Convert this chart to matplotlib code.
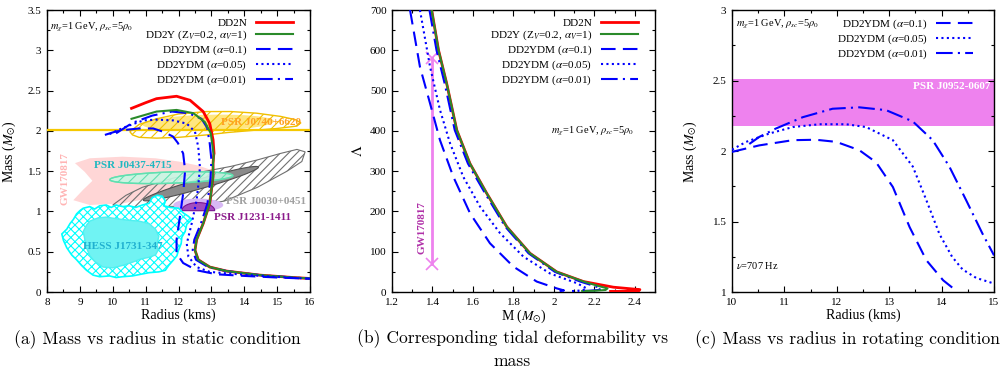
import numpy as np
import matplotlib
matplotlib.use("Agg")
import matplotlib.pyplot as plt
from matplotlib.patches import Polygon
from matplotlib.ticker import MultipleLocator, FuncFormatter

plt.rcParams['font.family'] = ['Liberation Serif', 'DejaVu Serif']
plt.rcParams['mathtext.fontset'] = 'stix'
plt.rcParams['hatch.linewidth'] = 0.8

# ---------------- data: panel (a) mass-radius, static ----------------
tail_R = [13.07, 13.05, 13.05, 12.95, 12.75, 12.55, 12.5, 12.6, 12.95, 13.46, 14.47, 15.49, 16.0]
tail_M = [1.70, 1.60, 1.43, 1.10, 0.85, 0.65, 0.52, 0.40, 0.31, 0.26, 0.21, 0.18, 0.168]

dd2n_R = [10.57, 11.0, 11.33, 11.94, 12.35, 12.75, 12.95, 13.05, 13.08]
dd2n_M = [2.28, 2.35, 2.40, 2.43, 2.38, 2.24, 2.09, 1.89, 1.72]
dd2y_R = [10.57, 11.33, 11.94, 12.45, 12.8, 12.98, 13.05]
dd2y_M = [2.15, 2.24, 2.26, 2.22, 2.11, 1.97, 1.76]
a001_R = [10.1, 10.6, 11.2, 11.8, 12.3, 12.7, 12.87, 12.95, 13.0, 12.97, 12.88, 12.68, 12.48, 12.43, 12.53, 12.9, 13.46, 14.47, 15.49, 16.0]
a001_M = [1.97, 2.10, 2.19, 2.24, 2.22, 2.15, 2.04, 1.84, 1.64, 1.40, 1.10, 0.85, 0.65, 0.52, 0.40, 0.31, 0.26, 0.21, 0.18, 0.168]
a005_R = [9.9, 10.27, 10.52, 10.93, 11.33, 11.84, 12.25, 12.5, 12.6, 12.65, 12.62, 12.55, 12.4, 12.25, 12.3, 12.55, 12.95, 13.5, 14.5, 15.5, 16.0]
a005_M = [1.96, 2.03, 2.07, 2.13, 2.14, 2.13, 2.09, 1.99, 1.80, 1.55, 1.40, 1.14, 0.85, 0.60, 0.44, 0.31, 0.25, 0.23, 0.20, 0.175, 0.165]
a01_R = [9.76, 10.07, 10.32, 10.8, 11.23, 11.53, 11.83, 11.98, 12.14, 12.2, 12.14, 12.04, 11.94, 11.94, 12.14, 12.55, 13.16, 14.0, 15.0, 16.0]
a01_M = [1.95, 1.99, 2.01, 2.03, 2.03, 1.99, 1.93, 1.85, 1.72, 1.51, 1.22, 0.93, 0.65, 0.48, 0.36, 0.27, 0.22, 0.20, 0.18, 0.165]

# observational constraints (R, M outlines)
gw_R = [8.85, 9.3, 10.3, 11.3, 12.0, 12.6, 13.1, 13.2, 12.8, 12.0, 11.2, 10.3, 9.3, 8.8, 9.1, 9.38, 9.15]
gw_M = [1.60, 1.66, 1.68, 1.66, 1.62, 1.57, 1.50, 1.42, 1.32, 1.24, 1.17, 1.10, 1.08, 1.14, 1.27, 1.38, 1.49]
j0740_R = [10.52, 10.8, 11.33, 12.0, 12.85, 13.6, 14.37, 15.1, 15.55, 15.72, 15.6, 15.0, 14.37, 13.5, 12.85, 12.0, 11.33, 10.8, 10.6]
j0740_M = [1.99, 2.08, 2.15, 2.21, 2.24, 2.24, 2.22, 2.18, 2.14, 2.10, 2.06, 2.03, 2.01, 1.98, 1.95, 1.92, 1.91, 1.92, 1.95]
j0740_inner = [12.9, 2.10, 2.0, 0.02, 0.0, 0.10]      # centre R, centre M, major (dR, dM), minor (dR, dM)
j0740_line_M = 2.01
j0437 = [11.78, 1.42, 1.87, 0.025, 0.0, 0.07]
j0030_R = [10.0, 10.4, 10.9, 11.8, 12.7, 13.6, 14.4, 15.1, 15.6, 15.85, 15.75, 15.3, 14.4, 13.4, 12.6, 11.5, 10.5]
j0030_M = [1.08, 1.20, 1.30, 1.41, 1.49, 1.56, 1.64, 1.72, 1.77, 1.74, 1.62, 1.50, 1.30, 1.13, 1.07, 1.06, 1.05]
j0030_inner = [12.68, 1.345, 1.75, 0.205, -0.02, 0.06]
j1231_outer = [12.6, 1.08, 0.76, 0.0, 0.0, 0.08]
j1231_inner = [12.6, 1.01, 0.5, 0.0, 0.0, 0.1]
hess_R = [9.1, 9.3, 9.45, 9.6, 9.8, 9.95, 10.1, 10.3, 10.5, 10.7, 10.9, 11.1, 11.2, 11.35, 11.5, 11.6, 11.55,
          11.75, 12.0, 12.15, 12.3, 12.4, 12.25, 12.2, 12.1, 12.08, 12.0, 11.95, 11.85, 11.7, 11.6, 11.4, 11.1,
          10.85, 10.6, 10.3, 10.1, 9.9, 9.6, 9.4, 9.2, 9.05, 8.9, 8.75, 8.6, 8.5, 8.45, 8.6, 8.7, 8.8, 8.9, 9.0]
hess_M = [1.04, 1.06, 1.03, 1.07, 1.08, 1.05, 1.08, 1.06, 1.07, 1.05, 1.08, 1.10, 1.17, 1.20, 1.19, 1.13, 1.07,
          1.05, 1.04, 0.98, 0.94, 0.90, 0.84, 0.75, 0.68, 0.60, 0.52, 0.45, 0.40, 0.33, 0.27, 0.25, 0.24,
          0.22, 0.20, 0.19, 0.18, 0.20, 0.19, 0.21, 0.27, 0.33, 0.40, 0.46, 0.55, 0.64, 0.72, 0.78, 0.85, 0.90, 0.97, 1.01]
hess_in_R = [9.3, 9.55, 9.8, 10.1, 10.5, 10.8, 11.1, 11.3, 11.4, 11.35, 11.38, 11.3, 11.1, 10.85, 10.6, 10.3, 10.0,
             9.7, 9.45, 9.3, 9.2, 9.15, 9.1, 9.2]
hess_in_M = [0.88, 0.92, 0.93, 0.91, 0.89, 0.88, 0.85, 0.78, 0.69, 0.60, 0.52, 0.46, 0.43, 0.41, 0.37, 0.33, 0.30,
             0.31, 0.38, 0.45, 0.55, 0.65, 0.75, 0.83]

# ---------------- data: panel (b) tidal deformability ----------------
b_dd2n_M = [1.396, 1.43, 1.47, 1.52, 1.585, 1.668, 1.767, 1.882, 2.014, 2.146, 2.294, 2.38, 2.425, 2.42, 2.35, 2.28]
b_dd2n_L = [700, 600, 518, 402, 319, 245, 162, 96, 50, 26, 12, 8, 6, 3, 1.5, 1.5]
b_dd2y_M = [1.396, 1.43, 1.47, 1.52, 1.585, 1.668, 1.767, 1.882, 2.014, 2.146, 2.22, 2.265, 2.255, 2.2, 2.14]
b_dd2y_L = [700, 600, 518, 402, 319, 245, 162, 96, 50, 26, 15, 9, 5, 3, 2.5]
b_a001_M = [1.385, 1.42, 1.46, 1.51, 1.575, 1.66, 1.76, 1.875, 2.005, 2.13, 2.2, 2.235, 2.22, 2.17, 2.12]
b_a001_L = [700, 600, 518, 402, 319, 245, 162, 96, 50, 26, 15, 9, 5, 3, 2.5]
b_a005_M = [1.338, 1.388, 1.437, 1.487, 1.552, 1.635, 1.734, 1.849, 1.981, 2.113, 2.162, 2.14, 2.08]
b_a005_L = [700, 559, 452, 369, 286, 212, 146, 88, 46, 22, 9, 4, 2]
b_a01_M = [1.289, 1.338, 1.388, 1.437, 1.503, 1.586, 1.684, 1.80, 1.915, 2.014, 2.05, 2.03, 2.0]
b_a01_L = [700, 559, 468, 377, 286, 195, 121, 63, 26, 9, 4, 2, 1]
gw_bar_M = 1.4
gw_bar_L = [70, 580]

# ---------------- data: panel (c) rotating ----------------
c_a01_R = [10.0, 10.52, 11.16, 11.6, 11.99, 12.43, 12.75, 13.07, 13.39, 13.71, 14.03, 14.31]
c_a01_M = [1.994, 2.04, 2.077, 2.08, 2.065, 2.006, 1.92, 1.745, 1.46, 1.225, 1.083, 1.0]
c_a005_R = [10.0, 10.27, 10.71, 11.16, 11.67, 12.18, 12.56, 13.07, 13.45, 13.7, 13.96, 14.2, 14.4, 14.66, 15.0]
c_a005_M = [2.01, 2.065, 2.124, 2.17, 2.19, 2.19, 2.17, 2.077, 1.89, 1.66, 1.41, 1.25, 1.16, 1.10, 1.06]
c_a001_R = [10.33, 10.52, 10.84, 11.35, 11.92, 12.43, 12.94, 13.45, 13.83, 14.15, 14.47, 14.78, 15.0]
c_a001_M = [2.05, 2.10, 2.16, 2.24, 2.30, 2.31, 2.29, 2.21, 2.077, 1.888, 1.65, 1.414, 1.26]
j0952_band = [2.18, 2.51]

labels5 = ['DD2N', r'DD2Y (Z$_V$=0.2, $\alpha_V$=1)', r'DD2YDM ($\alpha$=0.1)',
           r'DD2YDM ($\alpha$=0.05)', r'DD2YDM ($\alpha$=0.01)']

RED = '#ff0000'
GREEN = '#2a8a2a'
BLUE = '#0000ff'
DASH = (0, (7, 3.5))
DOT = (0, (1, 1.6))
DASHDOT = (0, (8, 2.5, 1, 2.5))


def ellipse_pts(p, n=120):
    t = np.linspace(0, 2 * np.pi, n)
    cx, cy, ax_, ay_, bx_, by_ = p
    return np.column_stack([cx + ax_ * np.cos(t) + bx_ * np.sin(t),
                            cy + ay_ * np.cos(t) + by_ * np.sin(t)])


def half_ellipse_pts(p, n=60):
    t = np.linspace(0, np.pi, n)
    cx, cy, ax_, ay_, bx_, by_ = p
    return np.column_stack([cx + ax_ * np.cos(t) + bx_ * np.sin(t),
                            cy + ay_ * np.cos(t) + by_ * np.sin(t)])


def fmt(v, pos):
    return '%g' % v


def style_axes(ax, xmaj, xmin, ymaj, ymin):
    ax.xaxis.set_major_locator(MultipleLocator(xmaj))
    ax.xaxis.set_minor_locator(MultipleLocator(xmin))
    ax.yaxis.set_major_locator(MultipleLocator(ymaj))
    ax.yaxis.set_minor_locator(MultipleLocator(ymin))
    ax.xaxis.set_major_formatter(FuncFormatter(fmt))
    ax.yaxis.set_major_formatter(FuncFormatter(fmt))
    ax.tick_params(which='both', direction='in', top=True, right=True, labelsize=8, width=0.8)
    ax.tick_params(which='major', length=4, pad=4)
    ax.tick_params(which='minor', length=2)
    for s in ax.spines.values():
        s.set_linewidth(1.0)


fig = plt.figure(figsize=(10.07, 3.72), dpi=100)
axA = fig.add_axes([0.0467, 0.215, 0.2612, 0.758])
axB = fig.add_axes([0.3893, 0.215, 0.2612, 0.758])
axC = fig.add_axes([0.7269, 0.215, 0.2602, 0.758])

# ================= panel (a) =================
ax = axA
ax.add_patch(Polygon(np.column_stack([gw_R, gw_M]), closed=True, facecolor='#ffd6d6', edgecolor='none', zorder=1))
ax.add_patch(Polygon(np.column_stack([j0030_R, j0030_M]), closed=True, facecolor='none', edgecolor='#707070',
                     hatch='////', lw=0.8, zorder=2))
ax.add_patch(Polygon(ellipse_pts(j0030_inner), closed=True, facecolor='#8a8a8a', edgecolor='#505050', lw=0.8, zorder=2.1))
ax.add_patch(Polygon(ellipse_pts(j0437), closed=True, facecolor='#c8f7e4', edgecolor='#60e0b0', lw=1.0, alpha=0.9, zorder=2.2))
ax.add_patch(Polygon(ellipse_pts(j0437), closed=True, facecolor='none', edgecolor='#60e0b0', hatch='///', lw=1.0, zorder=2.25))
ax.add_patch(Polygon(ellipse_pts(j1231_outer), closed=True, facecolor='#d8b8f5', edgecolor='none', zorder=2.3))
ax.add_patch(Polygon(half_ellipse_pts(j1231_inner), closed=True, facecolor='#a24cc0', edgecolor='#7a1590', lw=0.8, zorder=2.4))
ax.add_patch(Polygon(np.column_stack([hess_R, hess_M]), closed=True, facecolor='white', edgecolor='#00ffff',
                     hatch='xxxx', lw=1.2, zorder=2.5))
ax.add_patch(Polygon(np.column_stack([hess_in_R, hess_in_M]), closed=True, facecolor='#70f3f3', edgecolor='#50f0f0',
                     lw=1.0, zorder=2.6))
ax.add_patch(Polygon(ellipse_pts(j0740_inner), closed=True, facecolor='#ffe680', edgecolor='none', zorder=2.7))
ax.add_patch(Polygon(np.column_stack([j0740_R, j0740_M]), closed=True, facecolor='none', edgecolor='#f0c000',
                     hatch='///', lw=1.0, zorder=2.8))
ax.axhline(j0740_line_M, color='#f5c800', lw=1.6, zorder=2.9)

ax.plot(dd2n_R + tail_R, dd2n_M + tail_M, color=RED, lw=2.0, zorder=5, label=labels5[0])
ax.plot(dd2y_R + tail_R, dd2y_M + tail_M, color=GREEN, lw=1.5, zorder=5.1, label=labels5[1])
ax.plot(a01_R, a01_M, color=BLUE, lw=1.5, ls=DASH, zorder=5.2, label=labels5[2])
ax.plot(a005_R, a005_M, color=BLUE, lw=1.5, ls=DOT, zorder=5.2, label=labels5[3])
ax.plot(a001_R, a001_M, color=BLUE, lw=1.5, ls=DASHDOT, zorder=5.05, label=labels5[4])

bold = dict(fontweight='bold', fontsize=8)
ax.text(14.5, 2.11, 'PSR J0740+6620', color='#ffa020', ha='center', va='center', zorder=6, **bold)
ax.text(10.6, 1.575, 'PSR J0437-4715', color='#20b8c0', ha='center', va='center', zorder=6, **bold)
ax.text(8.55, 1.41, 'GW170817', color='#ffb4b4', ha='center', va='center', rotation=90, zorder=6, **bold)
ax.text(14.65, 1.12, 'PSR J0030+0451', color='#a0a0a0', ha='center', va='center', zorder=6, **bold)
ax.text(14.25, 0.93, 'PSR J1231-1411', color='#8b1a8b', ha='center', va='center', zorder=6, **bold)
ax.text(10.3, 0.56, 'HESS J1731-347', color='#20b0d0', ha='center', va='center', zorder=6, **bold)
ax.text(8.1, 3.29, r'$m_\chi$=1 GeV, $\rho_{sc}$=5$\rho_0$', fontsize=7.5, ha='left', va='center')

ax.set_xlim(8, 16)
ax.set_ylim(0, 3.5)
style_axes(ax, 1, 0.5, 0.5, 0.25)
ax.set_xlabel('Radius (kms)', fontsize=10)
ax.set_ylabel(r'Mass ($M_{\odot}$)', fontsize=10)
ax.xaxis.set_label_coords(0.5, -0.057)
ax.yaxis.set_label_coords(-0.11, 0.5)

leg_kw = dict(loc='upper right', frameon=False, markerfirst=False, alignment='right', fontsize=8,
              handlelength=3.3, labelspacing=0.12, handletextpad=0.8, borderaxespad=0.3)
ax.legend(bbox_to_anchor=(0.965, 1.0), **leg_kw)

# ================= panel (b) =================
ax = axB
ax.plot(b_dd2n_M, b_dd2n_L, color=RED, lw=2.0, zorder=5, label=labels5[0])
ax.plot(b_dd2y_M, b_dd2y_L, color=GREEN, lw=1.5, zorder=5.1, label=labels5[1])
ax.plot(b_a01_M, b_a01_L, color=BLUE, lw=1.5, ls=DASH, zorder=5.2, label=labels5[2])
ax.plot(b_a005_M, b_a005_L, color=BLUE, lw=1.5, ls=DOT, zorder=5.2, label=labels5[3])
ax.plot(b_a001_M, b_a001_L, color=BLUE, lw=1.5, ls=DASHDOT, zorder=5.05, label=labels5[4])
ax.plot([gw_bar_M, gw_bar_M], gw_bar_L, color='#ee82ee', lw=2.0, marker='x', ms=9, mew=1.2, zorder=4)
ax.text(1.347, 160, 'GW170817', color='#b030a8', rotation=90, ha='center', va='center', **bold)
ax.text(2.19, 398, r'$m_\chi$=1 GeV, $\rho_{sc}$=5$\rho_0$', fontsize=7.5, ha='center', va='center')
ax.set_xlim(1.2, 2.5)
ax.set_ylim(0, 700)
style_axes(ax, 0.2, 0.1, 100, 50)
ax.set_xlabel(r'M ($M_{\odot}$)', fontsize=10)
ax.set_ylabel(r'$\Lambda$', fontsize=11)
ax.xaxis.set_label_coords(0.5, -0.057)
ax.yaxis.set_label_coords(-0.103, 0.5)
ax.legend(bbox_to_anchor=(0.965, 1.0), **leg_kw)

# ================= panel (c) =================
ax = axC
ax.axhspan(j0952_band[0], j0952_band[1], color='#ee82ee', lw=0, zorder=1)
ax.text(14.94, 2.46, 'PSR J0952-0607', color='white', ha='right', va='center', zorder=6, **bold)
ax.plot(c_a01_R, c_a01_M, color=BLUE, lw=1.5, ls=DASH, zorder=5, label=labels5[2])
ax.plot(c_a005_R, c_a005_M, color=BLUE, lw=1.5, ls=DOT, zorder=5, label=labels5[3])
ax.plot(c_a001_R, c_a001_M, color=BLUE, lw=1.5, ls=DASHDOT, zorder=5, label=labels5[4])
ax.text(10.08, 2.9, r'$m_\chi$=1 GeV, $\rho_{sc}$=5$\rho_0$', fontsize=7.5, ha='left', va='center')
ax.text(10.08, 1.19, r'$\nu$=707 Hz', fontsize=7.5, ha='left', va='center')
ax.set_xlim(10, 15)
ax.set_ylim(1, 3)
style_axes(ax, 1, 0.5, 0.5, 0.25)
ax.set_xlabel('Radius (kms)', fontsize=10)
ax.set_ylabel(r'Mass ($M_{\odot}$)', fontsize=10)
ax.xaxis.set_label_coords(0.5, -0.057)
ax.yaxis.set_label_coords(-0.125, 0.5)
ax.legend(bbox_to_anchor=(0.95, 1.0), **leg_kw)

# ================= captions =================
cap = dict(family='cmr10', fontsize=12.6, ha='center', va='center')
fig.text(0.156, 0.086, '(a) Mass vs radius in static condition', **cap)
fig.text(0.509, 0.062, '(b) Corresponding tidal deformability vs\nmass', linespacing=1.45, **cap)
fig.text(0.842, 0.086, '(c) Mass vs radius in rotating condition', **cap)

fig.savefig('out.png', dpi=100)
